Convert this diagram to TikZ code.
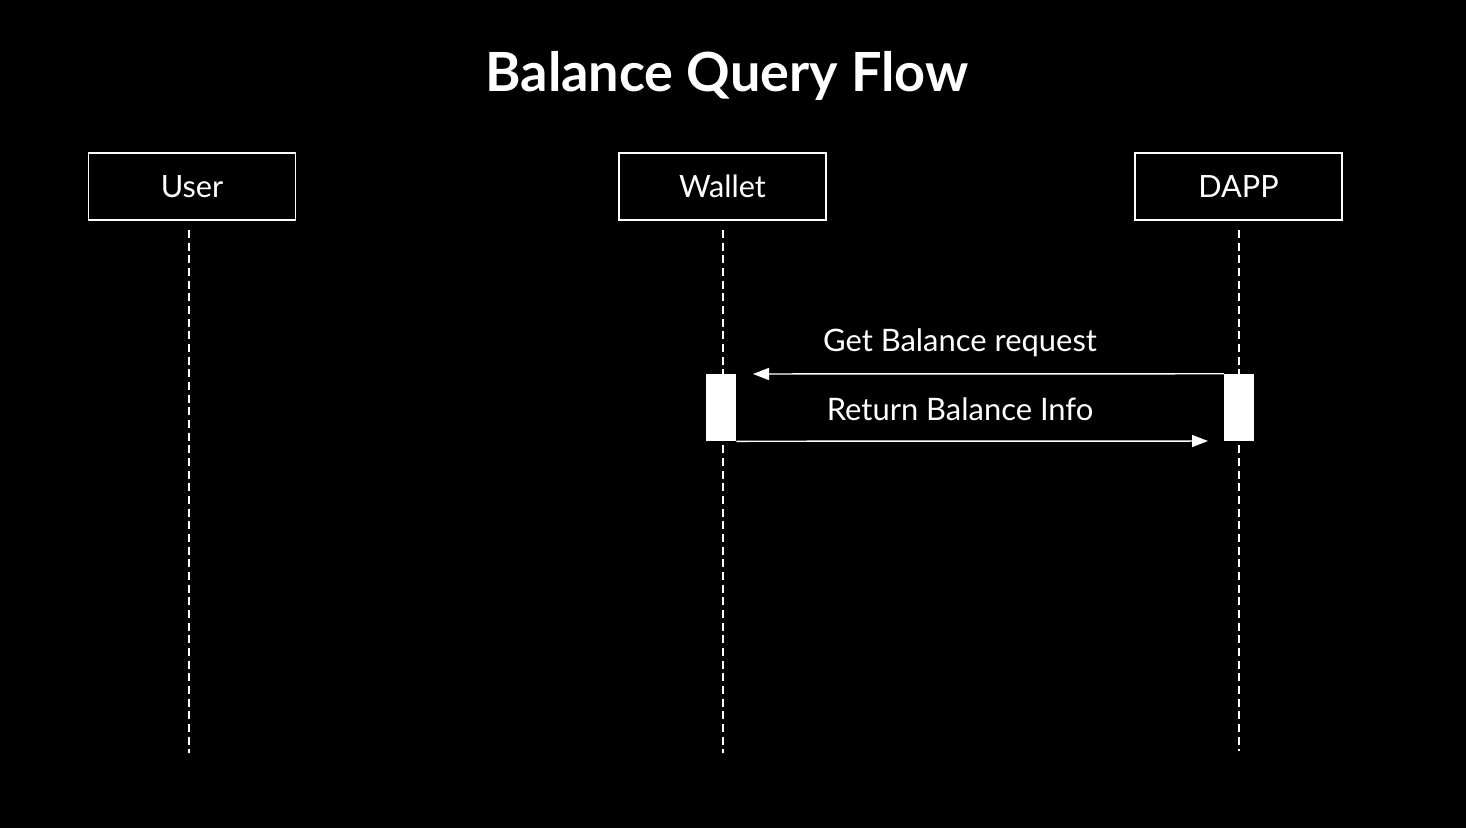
\documentclass[tikz,border=0pt]{standalone}
\usepackage{fontspec}
\setmainfont{Lato}
\usetikzlibrary{arrows.meta}
\begin{document}
\begin{tikzpicture}[x=0.75pt,y=-0.75pt,
  actor/.style={draw=white,line width=1pt,minimum width=207*0.75pt,minimum height=67*0.75pt,inner sep=0pt,text=white,font=\fontsize{23}{26}\selectfont},
  lifeline/.style={draw=white,line width=1pt,dash pattern=on 6pt off 3.5pt},
  actbar/.style={fill=white,draw=none,minimum width=30*0.75pt,minimum height=67*0.75pt,inner sep=0pt},
  msg/.style={draw=white,line width=1.1pt,-{Triangle[length=12pt,width=9pt]}},
  lbl/.style={text=white,font=\fontsize{23.2}{26}\selectfont}]
\fill[black] (0,0) rectangle (1466,828);
\useasboundingbox (0,0) rectangle (1466,828);
\node[text=white,font=\fontsize{40.5}{46}\bfseries\selectfont] (title) at (727,76) {Balance Query Flow};
\node[actor] (user) at (192,186.5) {User};
\node[actor] (wallet) at (722.5,186.5) {Wallet};
\node[actor] (dapp) at (1238.5,186.5) {DAPP};
\coordinate (ue) at (189,753);
\coordinate (we) at (723,753);
\coordinate (de) at (1239,751);
\draw[lifeline] (189,230) -- (ue);
\draw[lifeline] (723,230) -- (we);
\draw[lifeline] (1239,230) -- (de);
\node[actbar] (wbar) at (721,407.5) {};
\node[actbar] (dbar) at (1239,407.5) {};
\coordinate (t1) at (753,374);
\coordinate (t2) at (1208,441);
\draw[msg] (dbar.north west) -- (t1);
\draw[msg] (wbar.south east) -- (t2);
\node[lbl] (l1) at (960,343) {Get Balance request};
\node[lbl] (l2) at (960,409) {Return Balance Info};
\end{tikzpicture}
\end{document}
